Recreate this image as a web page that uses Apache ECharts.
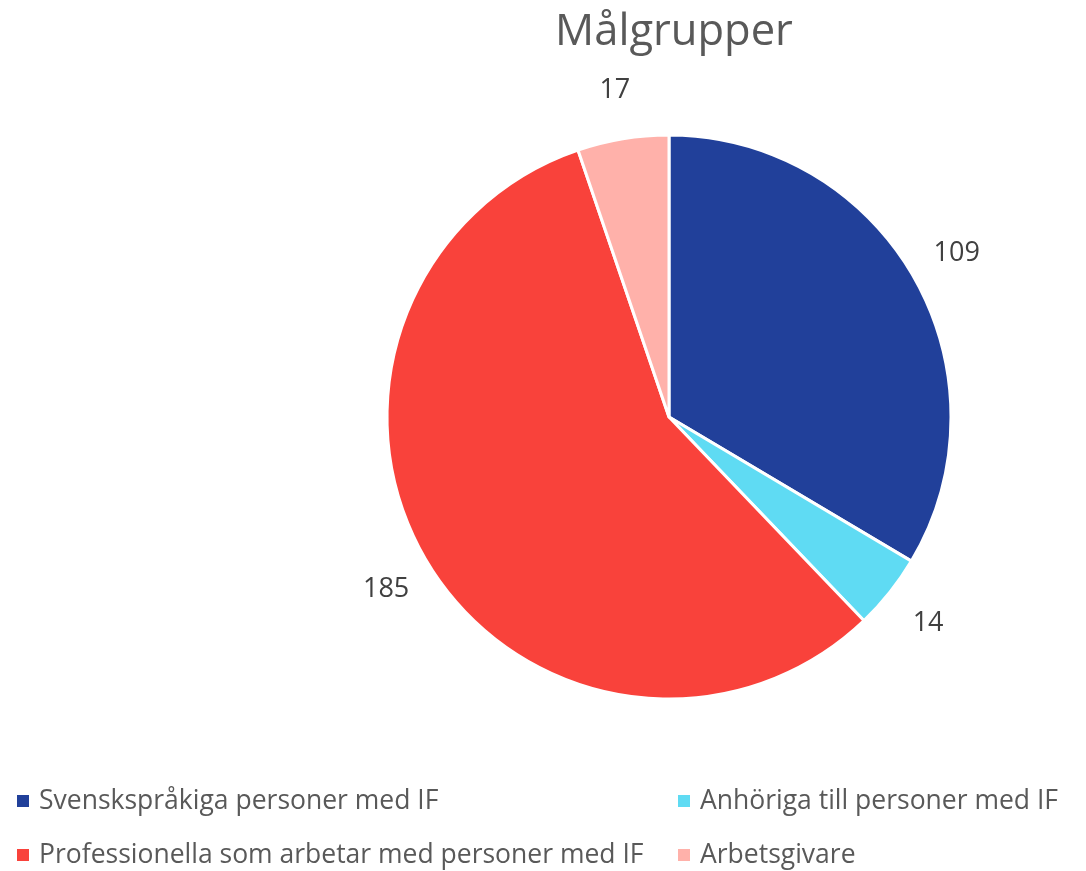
<!DOCTYPE html>
<html><head><meta charset="utf-8">
<script src="https://cdn.jsdelivr.net/npm/echarts@6/dist/echarts.min.js"></script>
<style>html,body{margin:0;padding:0;background:#fff}#c{width:1086px;height:871px}</style>
</head><body><div id="c"></div>
<script>
const titleText = 'Målgrupper';
const categories = ['Svenskspråkiga personer med IF', 'Anhöriga till personer med IF', 'Professionella som arbetar med personer med IF', 'Arbetsgivare'];
const values = [109, 14, 185, 17];
const colors = ['#21409A', '#5FDBF3', '#F9423B', '#FFB1AA'];
const FONT = 'Open Sans';
const chart = echarts.init(document.getElementById('c'), null, {renderer: 'canvas'});
const legendText = {fontFamily: FONT, fontSize: 26.5, lineHeight: 30, color: '#595959', padding: [0, 0, 0, 4]};
const pieData = categories.map((n, i) => ({name: n, value: values[i]}));
chart.setOption({
  animation: false,
  color: colors,
  title: {text: titleText, left: 669, top: 6, textAlign: 'center',
    textStyle: {fontFamily: FONT, fontSize: 43.5, fontWeight: 'normal', color: '#595959'}},
  legend: [
    {data: [categories[0], categories[2]], orient: 'vertical', left: 15, top: 786, padding: 0, itemWidth: 14, itemHeight: 14, itemGap: 24, icon: 'rect', textStyle: legendText},
    {data: [categories[1], categories[3]], orient: 'vertical', left: 676, top: 786, padding: 0, itemWidth: 14, itemHeight: 14, itemGap: 24, icon: 'rect', textStyle: legendText}
  ],
  series: [{
    type: 'pie', center: [669, 417], radius: 282, startAngle: 90, clockwise: true,
    itemStyle: {borderColor: '#fff', borderWidth: 3},
    label: {show: false},
    labelLine: {show: false},
    data: pieData
  }, {
    type: 'pie', center: [669, 417], radius: [318, 338], startAngle: 90, clockwise: true, silent: true,
    itemStyle: {color: 'rgba(0,0,0,0)', borderWidth: 0},
    label: {show: true, position: 'inside', formatter: '{c}', fontFamily: FONT, fontSize: 27, color: '#404040'},
    labelLine: {show: false},
    emphasis: {disabled: true},
    data: pieData
  }]
});
</script></body></html>
